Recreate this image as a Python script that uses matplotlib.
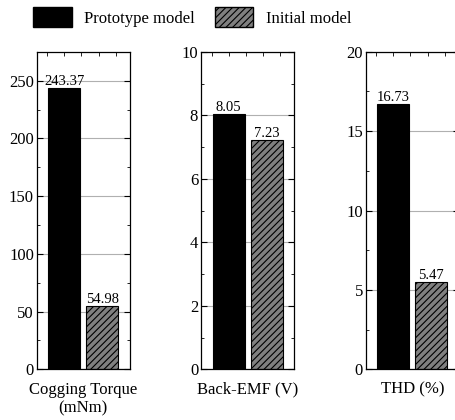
import matplotlib
matplotlib.use("Agg")
import matplotlib.pyplot as plt
from matplotlib.patches import Patch
from matplotlib.ticker import MultipleLocator

plt.rcParams['font.family'] = ['Liberation Serif', 'DejaVu Serif']
plt.rcParams['hatch.linewidth'] = 0.8

series = ["Prototype model", "Initial model"]
metrics = ["Cogging Torque\n(mNm)", "Back-EMF (V)", "THD (%)"]
prototype = [243.37, 8.05, 16.73]
initial = [54.98, 7.23, 5.47]
ymax = [275, 10, 20]
ymajor = [50, 2, 5]
yminor = [25, 1, 2.5]

fig = plt.figure(figsize=(4.56, 4.2), dpi=100)
lefts = [0.0805, 0.4408, 0.802]

for i in range(3):
    ax = fig.add_axes([lefts[i], 0.1207, 0.2046, 0.756])
    vals = [prototype[i], initial[i]]
    bars = ax.bar([0, 1], vals, width=0.84, color=["black", "#808080"],
                  edgecolor="black", linewidth=0.8, zorder=2)
    bars[1].set_hatch("/////")
    for x, v in zip([0, 1], vals):
        ax.text(x, v, f"{v:.2f}", ha="center", va="bottom", fontsize=10.5)
    ax.set_xlim(-0.73, 1.73)
    ax.set_ylim(0, ymax[i])
    ax.yaxis.set_major_locator(MultipleLocator(ymajor[i]))
    ax.yaxis.set_minor_locator(MultipleLocator(yminor[i]))
    ax.set_xticks([0.5])
    ax.set_xticklabels([metrics[i]], fontsize=12, linespacing=1.25)
    ax.xaxis.set_minor_locator(MultipleLocator(0.45))
    ax.tick_params(axis="x", which="major", length=0, pad=9)
    ax.tick_params(axis="x", which="minor", bottom=False, top=True,
                   direction="in", length=3)
    ax.tick_params(axis="y", which="both", direction="in", left=True,
                   right=True, labelsize=12, pad=2)
    ax.tick_params(axis="y", which="major", length=4)
    ax.tick_params(axis="y", which="minor", length=2.5)
    ax.grid(axis="y", which="major", color="#b0b0b0", linewidth=0.8)
    ax.set_axisbelow(True)
    for s in ax.spines.values():
        s.set_linewidth(0.9)

handles = [Patch(facecolor="black", edgecolor="black"),
           Patch(facecolor="#808080", edgecolor="black", hatch="/////")]
fig.legend(handles, series, loc="upper left", bbox_to_anchor=(0.04, 1.018),
           ncol=2, frameon=False, fontsize=12, handlelength=2.3,
           handleheight=1.4, columnspacing=1.2, handletextpad=0.75)

fig.savefig("out.png", dpi=100)
